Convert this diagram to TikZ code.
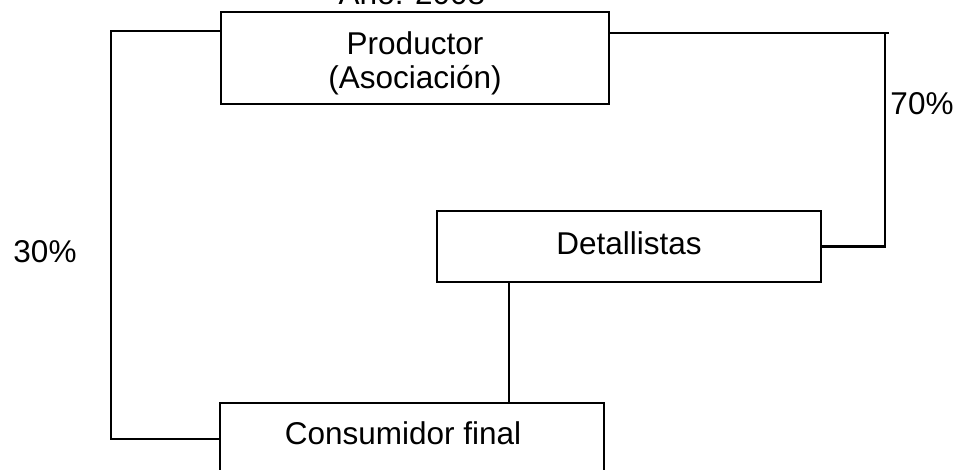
\documentclass[tikz,border=0pt]{standalone}
\usepackage{fontspec}
\setmainfont{Liberation Sans}
\begin{document}
\begin{tikzpicture}[x=1pt,y=-1pt,
  box/.style={draw,line width=2.2pt,rectangle,inner sep=0pt,outer sep=0pt},
  lbl/.style={font=\fontsize{31.5}{35}\selectfont,inner sep=0pt,anchor=base},
  conn/.style={line width=2.2pt}]
\useasboundingbox (0,0) rectangle (965,470);
\clip (0,0) rectangle (965,470);
\node[lbl] (year) at (412,5) {Año: 2008};
\node[box,minimum width=388pt,minimum height=92pt] (prod) at (415,58) {};
\node[lbl] (prodA) at (415,55) {Productor};
\node[lbl] (prodB) at (415,89) {(Asociación)};
\node[box,minimum width=384pt,minimum height=71pt] (det) at (629,246.5) {};
\node[lbl] (detT) at (629,254) {Detallistas};
\node[box,anchor=north west,minimum width=384pt,minimum height=90pt] (cons) at (220,403) {};
\node[lbl] (consT) at (403,444) {Consumidor final};
\node[lbl] (p70) at (922,115) {70\%};
\node[lbl] (p30) at (45,262) {30\%};
\coordinate (lt) at (111,31);
\coordinate (lb) at (111,439);
\coordinate (rt) at (885,33);
\coordinate (rtick) at (889,33);
\coordinate (rb) at (885,246.5);
\draw[conn] ([yshift=-19pt]prod.north west) -- (lt) -- (lb) -- ([yshift=-36pt]cons.north west);
\draw[conn] ([yshift=-21pt]prod.north east) -- (rtick);
\draw[conn] (rt) -- (rb) -- (det.east);
\draw[conn] ([xshift=-120pt]det.south) -- ([xshift=-120pt]det.south |- cons.north);
\end{tikzpicture}
\end{document}
